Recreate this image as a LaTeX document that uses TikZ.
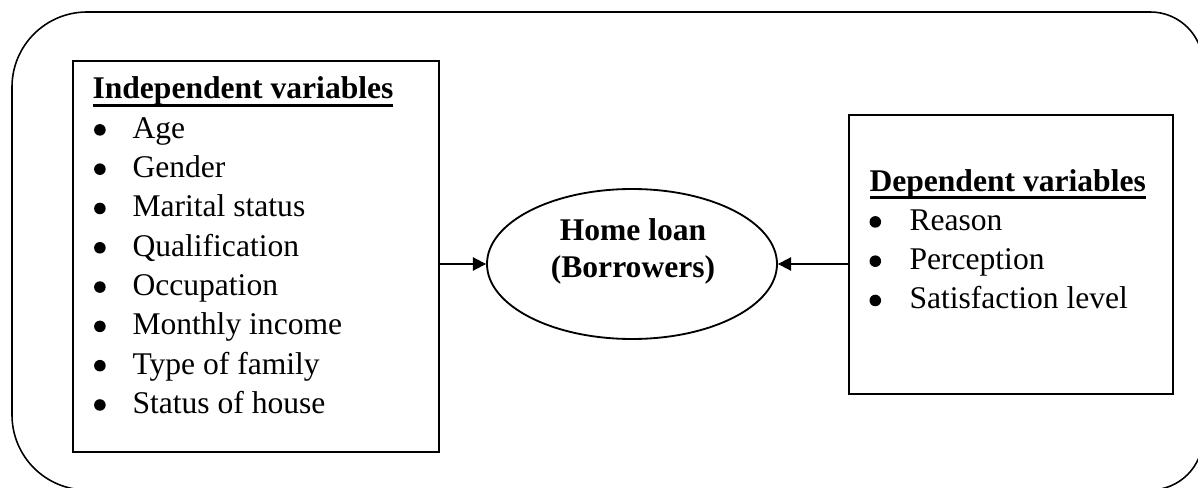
\documentclass[tikz,border=0pt]{standalone}
\usepackage{fontspec}
\setmainfont{Liberation Serif}
\usepackage{tikz}
\usetikzlibrary{positioning,shapes.geometric,arrows.meta}

\newcommand{\ulbf}[1]{\setbox0\hbox{\bfseries #1}\rlap{\rule[-3pt]{\wd0}{1.1pt}}\box0}

\begin{document}
\begin{tikzpicture}[x=0.38pt, y=-0.38pt,
  every node/.style={font=\fontsize{12}{14.9}\selectfont},
  box/.style={draw, line width=0.7pt, rectangle, anchor=north west, inner sep=0pt},
  txt/.style={anchor=base west, inner sep=0pt},
  itm/.style={txt, execute at begin node=\hspace*{15.2pt}},
  bul/.style={radius=2.2pt},
  arr/.style={-{Triangle[length=5pt,width=5pt]}, line width=0.7pt}]
\useasboundingbox (0,0) rectangle (1198,488);
\draw[line width=0.6pt] (12,250) [rounded corners=28.5pt] -- (12,12) -- (640,12) [rounded corners=20pt] -- (1203,12) -- (1203,490) -- (640,490) [rounded corners=28.5pt] -- (12,490) -- cycle;

\node[box, minimum width=139.1pt, minimum height=148.6pt] (indep) at (72,60) {};
\node[box, minimum width=123.1pt, minimum height=106pt] (dep) at (848,114) {};
\node[ellipse, draw, line width=0.7pt, minimum width=110.2pt, minimum height=57pt, inner sep=0pt] (loan) at (632,264) {};
\node[font=\fontsize{12}{14.1}\selectfont\bfseries, align=center, inner sep=0pt] (loantxt) at (633,251) {Home loan\\(Borrowers)};

\node[txt] (indhead) at (92,99) {\ulbf{Independent variables}};
\foreach \txt [count=\i] in {Age, Gender, Marital status, Qualification, Occupation, Monthly income, Type of family, Status of house}{
  \node[itm] (ind\i) at (92,99+39.3*\i) {\txt};
  \fill[bul] ([xshift=3pt,yshift=3.2pt]ind\i.base west) circle;
}

\node[txt] (dephead) at (869,191) {\ulbf{Dependent variables}};
\foreach \txt [count=\i] in {Reason, Perception, Satisfaction level}{
  \node[itm] (dep\i) at (869,191+39.3*\i) {\txt};
  \fill[bul] ([xshift=2.4pt,yshift=3.2pt]dep\i.base west) circle;
}

\draw[arr] (indep.east |- loan.west) -- (loan.west);
\draw[arr] (dep.west |- loan.east) -- (loan.east);
\end{tikzpicture}
\end{document}
